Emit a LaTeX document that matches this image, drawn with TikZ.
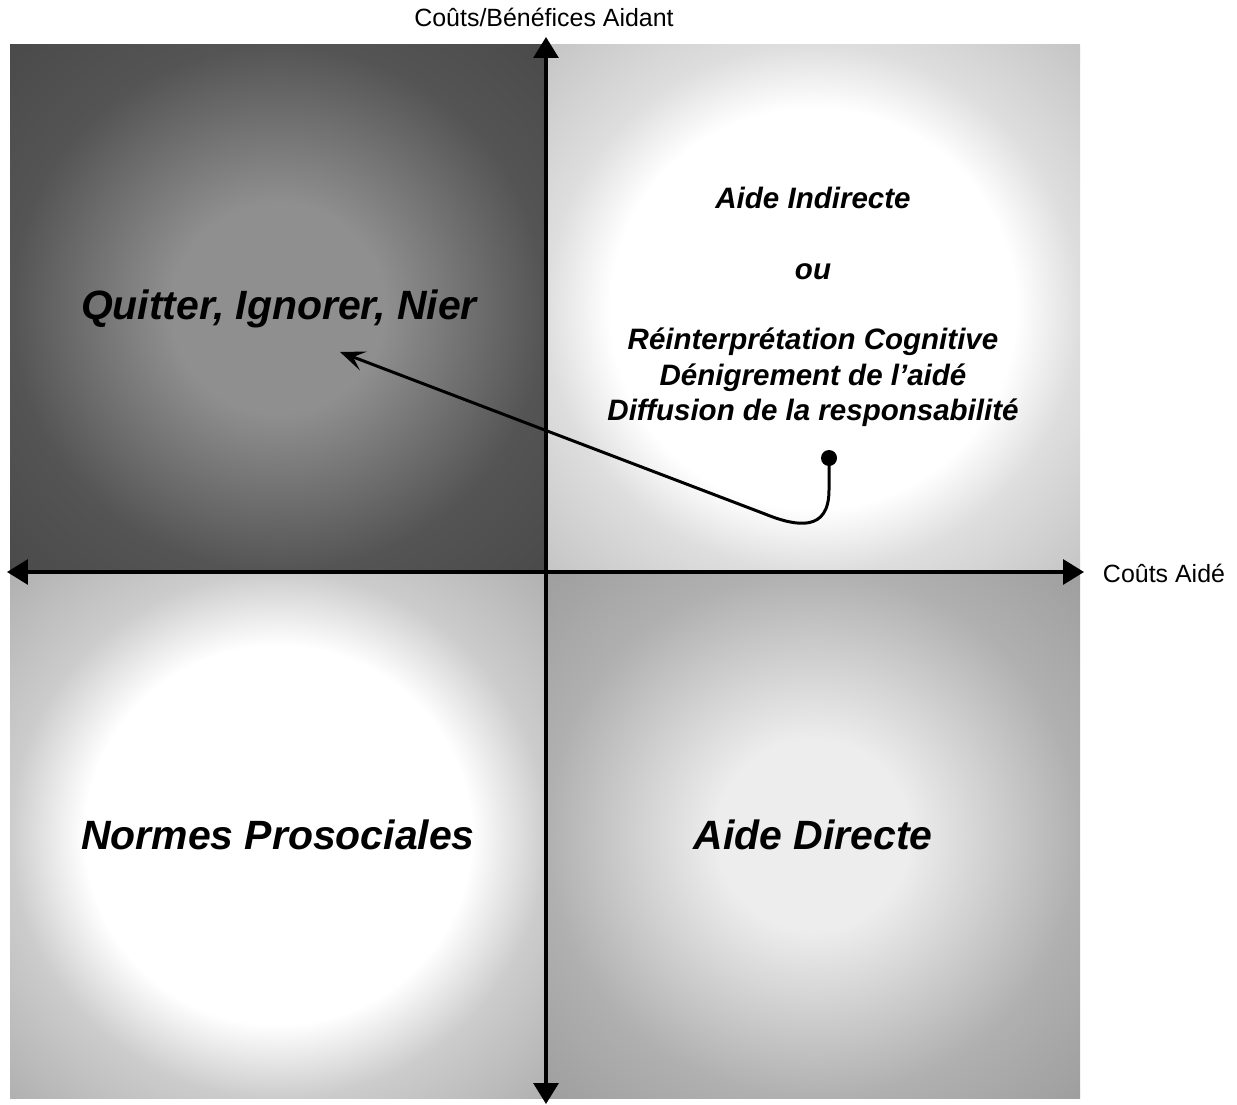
\documentclass[tikz,border=0pt]{standalone}
\usepackage{fontspec}
\setmainfont{Liberation Sans}
\usetikzlibrary{arrows.meta}

% grey levels of the four quadrants (centre -> edge -> corner)
\definecolor{tlin}{gray}{0.56}
\definecolor{tlout}{gray}{0.33}
\definecolor{tlcorner}{gray}{0.29}
\definecolor{trin}{gray}{1.00}
\definecolor{trout}{gray}{0.87}
\definecolor{trcorner}{gray}{0.77}
\definecolor{blin}{gray}{1.00}
\definecolor{blout}{gray}{0.80}
\definecolor{blcorner}{gray}{0.69}
\definecolor{brin}{gray}{0.93}
\definecolor{brout}{gray}{0.69}
\definecolor{brcorner}{gray}{0.62}

% a radial shading: 25bp reaches the edge of the filled box, 35.4bp its corners
\pgfdeclareradialshading{tlshade}{\pgfpoint{0bp}{0bp}}{color(0bp)=(tlin); color(10bp)=(tlin); color(25bp)=(tlout); color(35.5bp)=(tlcorner); color(50bp)=(tlcorner)}
\pgfdeclareradialshading{trshade}{\pgfpoint{0bp}{0bp}}{color(0bp)=(trin); color(19bp)=(trin); color(25bp)=(trout); color(35.5bp)=(trcorner); color(50bp)=(trcorner)}
\pgfdeclareradialshading{blshade}{\pgfpoint{0bp}{0bp}}{color(0bp)=(blin); color(18bp)=(blin); color(25bp)=(blout); color(35.5bp)=(blcorner); color(50bp)=(blcorner)}
\pgfdeclareradialshading{brshade}{\pgfpoint{0bp}{0bp}}{color(0bp)=(brin); color(9bp)=(brin); color(25bp)=(brout); color(35.5bp)=(brcorner); color(50bp)=(brcorner)}

\tikzset{
  axis/.style={line width=1.8pt, {Triangle[length=0.42cm,width=0.5cm]}-{Triangle[length=0.42cm,width=0.5cm]}},
  axislabel/.style={font=\fontsize{14.2}{17}\selectfont, inner sep=0pt},
  biglabel/.style={font=\fontsize{23.3}{28}\selectfont\bfseries\itshape, inner sep=0pt},
  smalllabel/.style={font=\fontsize{16.8}{20.1}\selectfont\bfseries\itshape, align=center, inner sep=0pt},
  path arrow/.style={line width=1.7pt, -{Stealth[length=0.5cm,width=0.4cm,inset=0.22cm]}},
  startdot/.style={circle, fill=black, inner sep=0pt, minimum size=0.32cm}
}

\begin{document}
\begin{tikzpicture}[x=0.02cm, y=-0.02cm]
  \useasboundingbox (0,0) rectangle (1237,1105);
  \fill[white] (0,0) rectangle (1237,1105);

  % quadrants
  \path[shading=tlshade] (10,45) rectangle (546,572);
  \path[shading=trshade] (546,45) rectangle (1080,572);
  \path[shading=blshade] (10,572) rectangle (546,1098);
  \path[shading=brshade] (546,572) rectangle (1080,1098);

  % axes
  \coordinate (ytop) at (546,37);
  \coordinate (ybot) at (546,1104);
  \coordinate (xleft) at (7,572);
  \coordinate (xright) at (1084,572);
  \draw[axis] (ybot) -- (ytop);
  \draw[axis] (xleft) -- (xright);

  \node[axislabel] (ylab) at (544,17) {Coûts/Bénéfices Aidant};
  \node[axislabel] (xlab) at (1164,573) {Coûts Aidé};

  % quadrant texts
  \node[biglabel] (quit) at (279,309) {Quitter, Ignorer, Nier};
  \node[biglabel] (normes) at (278,835) {Normes Prosociales};
  \node[biglabel] (directe) at (813,835) {Aide Directe};
  \node[smalllabel] (indirecte) at (813,307)
    {Aide Indirecte\\[20.1pt]ou\\[20.1pt]Réinterprétation Cognitive\\Dénigrement de l’aidé\\Diffusion de la responsabilité};

  % trajectory from the upper right quadrant to the upper left one
  \node[startdot] (start) at (829,458) {};
  \coordinate (tip) at (340,352);
  \draw[path arrow] (start.center) -- (829,490)
    .. controls (829,532) and (797,527) .. (765,514) -- (tip);
\end{tikzpicture}
\end{document}
